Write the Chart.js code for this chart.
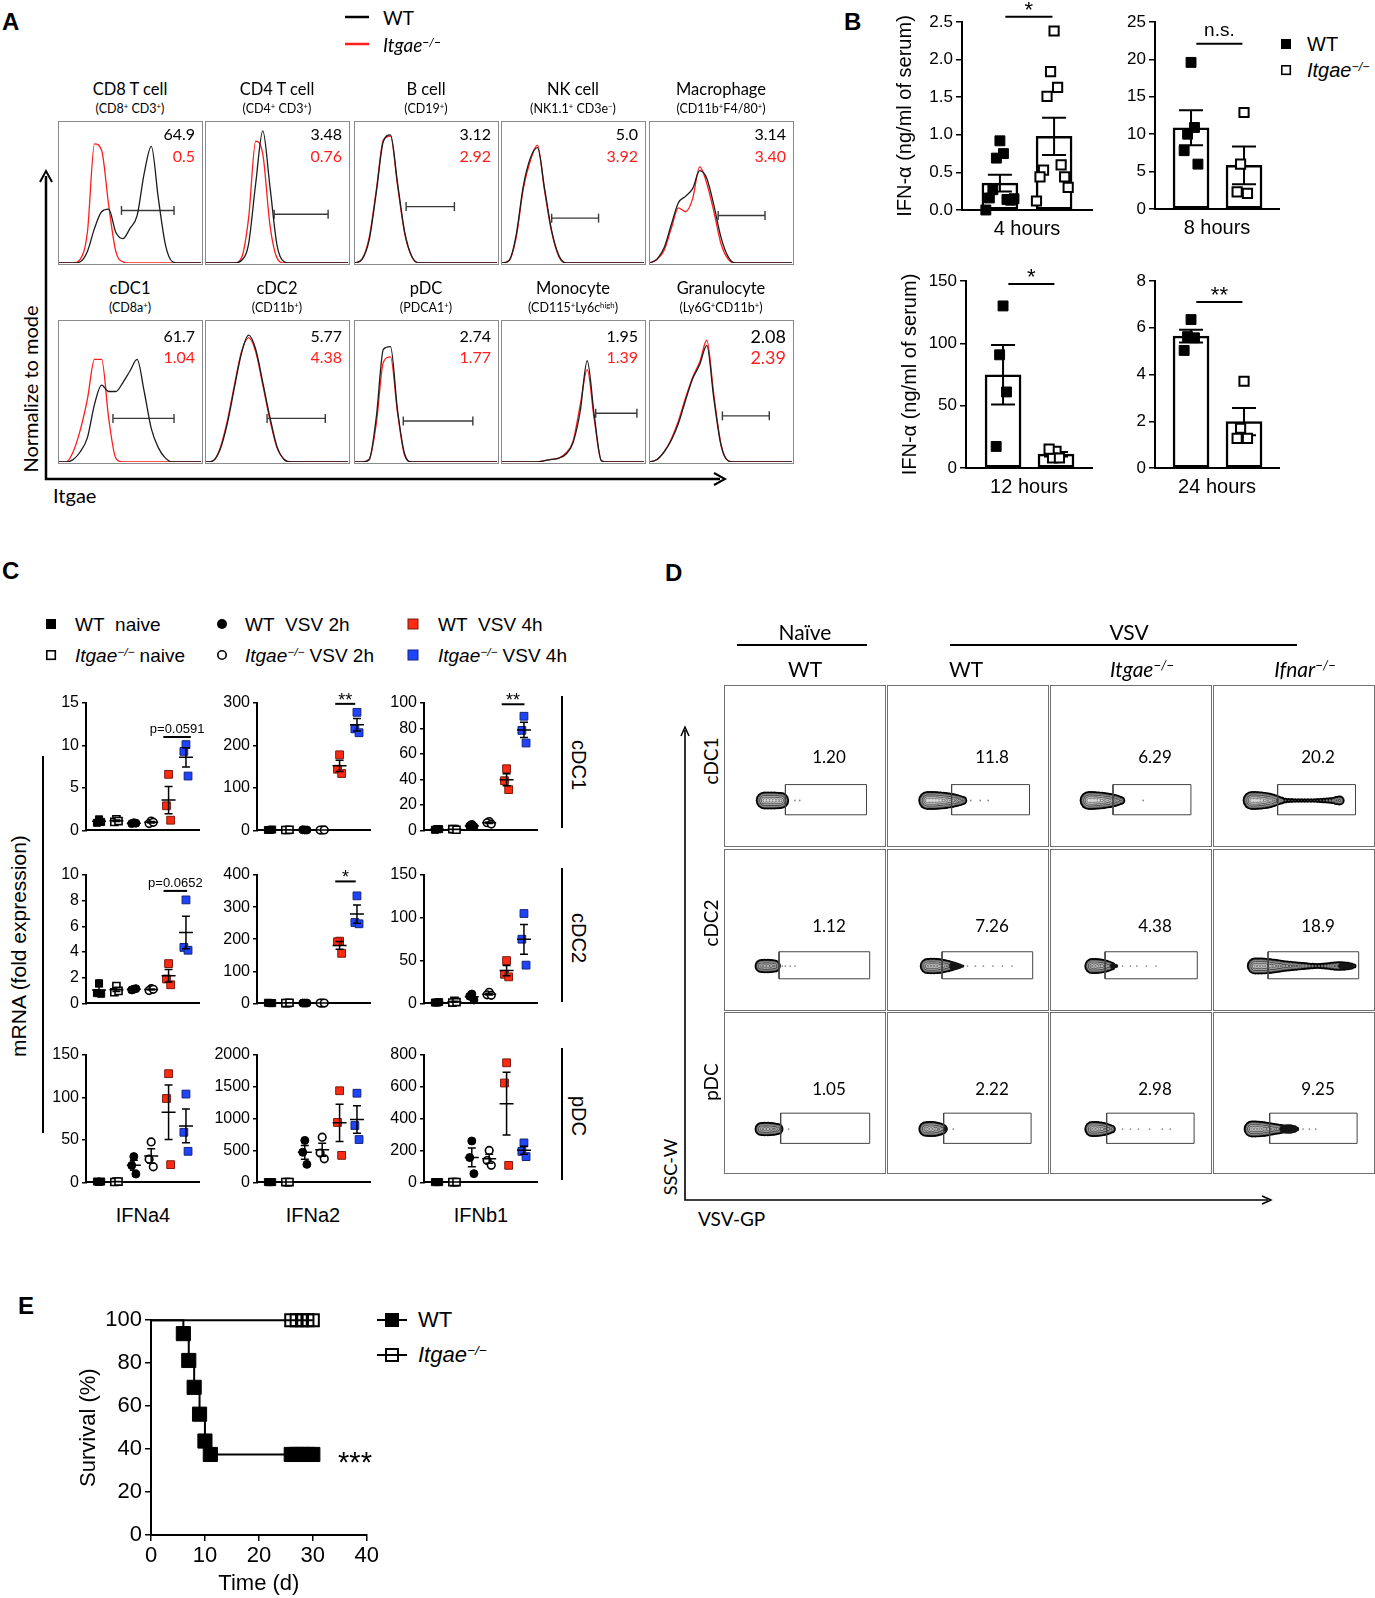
<!DOCTYPE html>
<html>
<head>
<meta charset="utf-8">
<title>Itgae / VSV figure</title>
<script src="https://cdn.jsdelivr.net/npm/chart.js@4.4.1/dist/chart.umd.min.js"></script>
<style>
  html, body { margin: 0; padding: 0; background: #fff; }
  #page { position: relative; width: 1375px; height: 1598px; overflow: hidden; background: #fff; }
  #page canvas { position: absolute; }
  .box { position: absolute; box-sizing: border-box; border: 1.5px solid #8a8a8a; }
  .dbox { border: 1.3px solid #707070; }
  sup { font-size: 0.62em; vertical-align: 0.5em; line-height: 0; }
</style>
</head>
<body>
<div id="page"></div>
<script>
// ---------- panel A: Itgae histograms (normalised to mode, 0-110 scale) ----------
const histX = [0,5,10,15,20,25,30,35,40,45,50,55,60,65,70,75,80,85,90,95,100];
const cellTypes = ['CD8 T cell','CD4 T cell','B cell','NK cell','Macrophage','cDC1','cDC2','pDC','Monocyte','Granulocyte'];
const cellMarkers = ['(CD8<sup>+</sup> CD3<sup>+</sup>)','(CD4<sup>+</sup> CD3<sup>+</sup>)','(CD19<sup>+</sup>)',
  '(NK1.1<sup>+</sup> CD3e<sup>−</sup>)','(CD11b<sup>+</sup>F4/80<sup>+</sup>)','(CD8a<sup>+</sup>)','(CD11b<sup>+</sup>)',
  '(PDCA1<sup>+</sup>)','(CD115<sup>+</sup>Ly6c<sup>high</sup>)','(Ly6G<sup>+</sup>CD11b<sup>+</sup>)'];
const histWT = [
  [0,0,0,1,9,27,40,42,24,19,27,37,70,91,50,14,1,0,0,0,0],
  [0,0,0,0,0,2,15,62,103,60,14,1,0,0,0,0,0,0,0,0,0],
  [0,3,18,55,95,100,62,24,5,0,0,0,0,0,0,0,0,0,0,0,0],
  [0,2,22,60,82,90,58,25,6,0,0,0,0,0,0,0,0,0,0,0,0],
  [0,3,12,30,47,52,58,72,66,45,20,5,0,0,0,0,0,0,0,0,0],
  [0,0,2,8,19,45,60,55,55,62,71,80,55,26,11,3,0,0,0,0,0],
  [0,1,10,30,58,85,99,88,62,35,12,2,0,0,0,0,0,0,0,0,0],
  [0,0,2,35,88,90,40,6,0,0,0,0,0,0,0,0,0,0,0,0,0],
  [0,0,0,0,0,0,1,2,3,6,15,39,79,36,1,0,0,0,0,0,0],
  [0,2,8,17,30,48,65,76,91,49,13,1,0,0,0,0,0,0,0,0,0]
];
const histKO = [
  [0,0,0,3,24,93,88,45,9,1,0,0,0,0,0,0,0,0,0,0,0],
  [0,0,0,0,0,4,35,95,85,30,4,0,0,0,0,0,0,0,0,0,0],
  [0,3,20,57,96,99,60,23,5,0,0,0,0,0,0,0,0,0,0,0,0],
  [0,2,20,58,80,92,56,24,5,0,0,0,0,0,0,0,0,0,0,0,0],
  [0,3,10,27,43,40,50,75,62,40,15,3,0,0,0,0,0,0,0,0,0],
  [0,0,8,25,49,80,80,34,3,0,0,0,0,0,0,0,0,0,0,0,0],
  [0,1,11,32,60,86,97,86,60,33,11,2,0,0,0,0,0,0,0,0,0],
  [0,0,2,30,78,82,38,5,0,0,0,0,0,0,0,0,0,0,0,0,0],
  [0,0,0,0,0,0,1,2,3,7,16,44,72,33,1,0,0,0,0,0,0],
  [0,2,8,18,32,50,66,78,95,52,14,1,0,0,0,0,0,0,0,0,0]
];
const gateLo = [44,48,36,35,48,38,43,34,66,51];
const gateHi = [81,86,70,68,81,81,84,83,95,84];
const gateLevel = [41,38,44,35,37,34,34,32,38,36];
const pctWT = ['64.9','3.48','3.12','5.0','3.14','61.7','5.77','2.74','1.95','2.08'];
const pctKO = ['0.5','0.76','2.92','3.92','3.40','1.04','4.38','1.77','1.39','2.39'];

// ---------- panel B: serum IFN-alpha (ng/ml) ----------
const ifn4hWT = [0.92,0.69,0.75,0.27,0.14,0.16,0.13,0.0,0.15];
const ifn4hKO = [2.38,1.84,1.63,1.51,0.60,0.53,0.44,0.44,0.30,0.12];
const ifn8hWT = [19.6,10.0,10.9,7.8,6.0];
const ifn8hKO = [12.9,6.0,2.1,2.3];
const ifn12hWT = [130,90.8,61,17.3];
const ifn12hKO = [13.3,8.0,8.0,15.1];
const ifn24hWT = [6.35,5.62,5.57,5.03];
const ifn24hKO = [3.71,1.70,1.27,1.27];

// ---------- panel C: mRNA fold expression, 6 groups x 3 mice ----------
const cGroups = ['WT naive','Itgae−/− naive','WT VSV 2h','Itgae−/− VSV 2h','WT VSV 4h','Itgae−/− VSV 4h'];
const cGenes = ['IFNa4','IFNa2','IFNb1'];
const cCells = ['cDC1','cDC2','pDC'];
const cdc1Ifna4 = [[1.3,0.9,1.0],[1.3,1.0,1.1],[0.9,0.8,0.85],[1.1,0.8,0.95],[6.6,2.9,1.2],[10.1,9.3,6.4]];
const cdc1Ifna2 = [[1,1,2],[1,1,1.5],[1,1.5,1],[1,0.8,1.2],[178,144,134],[278,239,230]];
const cdc1Ifnb1 = [[1,0.5,1],[1,1,0.5],[4.7,3.5,3],[7,6,5],[48.4,39,32],[89.6,78.5,68.6]];
const cdc2Ifna4 = [[1.57,0.8,0.75],[1.35,0.87,0.97],[1.1,1.05,1.15],[1.15,1.0,1.1],[3.1,1.9,1.45],[8.06,4.36,4.14]];
const cdc2Ifna2 = [[1,2,1],[1,1,2],[1,1,1],[1,1,1],[194,192,156],[335,252,248]];
const cdc2Ifnb1 = [[1,1,1.5],[3,1,1.5],[10.9,8.4,4],[13,10,9.4],[50,34,31],[105,75,44.7]];
const pdcIfna4 = [[0.5,1,1],[1,0.5,1],[30.4,20,9.9],[47.6,27.4,18.3],[128,98.8,20.9],[104,59,36.6]];
const pdcIfna2 = [[5,5,5],[5,5,5],[659,473,283],[710,460,370],[1439,941,424],[1400,893,673]];
const pdcIfnb1 = [[2,2,2],[2,2,2],[260,156,55],[201,137,107],[751,624,107],[248,195,162]];
const cMax = [[15,300,100],[10,400,150],[150,2000,800]];
const cStep = [[5,100,20],[2,100,50],[50,500,200]];

// ---------- panel D: VSV-GP contour plots (gate %, population outline on 0-100 grid) ----------
const dCols = ['WT','WT','Itgae','Ifnar'];
const dRows = ['cDC1','cDC2','pDC'];
const dPct = [['1.20','11.8','6.29','20.2'],['1.12','7.26','4.38','18.9'],['1.05','2.22','2.98','9.25']];
const dGateX = [[[38,89],[40,89],[39,88],[40,89]],[[34,91],[34,91],[34,92],[34,91]],[[35,91],[35,90],[35,90],[35,90]]];
const dGateY = [[19,38],[19,36],[18,37]];
const dBlobY = [28,27,27];
// population half-height (px) along the VSV-GP axis
const dBlobX = [
  [[25,27,29,31,33,35],
   [25,27,29,31,33,35,37,39,41,43,45,47],
   [24,26,28,30,32,34,36,38,40,42,44],
   [24,26,28,30,32,34,36,38,40,42,43,45,47,49,51,53,55,57,59,61,63,65,67,69,71,73,75,77,79]],
  [[23,25,27,29,31],
   [25,27,29,31,33,35,37,39,41,43,45],
   [26,28,30,32,34,36,38],
   [26,28,30,32,34,36,38,40,42,44,46,48,50,52,54,56,58,60,62,64,66,68,70,72,74,76,78,80,82,84,86,88]],
  [[23,25,27,29,31,33],
   [24,26,28,30,32,34],
   [26,28,30,32,34,36,38],
   [24,26,28,30,32,34,36,38,40,42]]
];
const dBlobR = [
  [[9,9,9,9,8.8,8.5],
   [9.5,9.5,9.5,9.3,9,8.7,8.3,7.8,7.2,6.5,5.6,4.5],
   [9.5,9.5,9.3,9,8.7,8.3,7.8,7.2,6.5,5.5,4.3],
   [9.5,9.5,9.3,9,8.6,8,7.2,6.2,5,4,3.2,2.8,2.5,2.4,2.3,2.3,2.2,2.2,2.2,2.2,2.3,2.4,2.6,2.8,3,3.2,3.6,4.5,5]],
  [[7,7.2,7.2,7,6.5],
   [8,8.2,8.2,8,7.6,7,6.3,5.5,4.6,3.6,2.6],
   [8,8,7.8,7.3,6.6,5.6,4.4],
   [8.5,8.5,8.5,8.3,8,7.6,7.2,6.8,6.3,5.8,5.5,5.2,4.9,4.6,4.3,4,3.7,3.4,3.2,3,3,3.2,3.5,3.8,4.2,4.6,4.8,4.8,4.6,4.2,3.6,2.5]],
  [[7,7.2,7.2,7,6.6,6],
   [7.8,8,8,7.6,6.8,5.6],
   [8,8,7.8,7.3,6.6,5.6,4.4],
   [8.5,8.5,8.3,8,7.6,7.1,6.5,6,5.5,5]]
];
// solid dark streaks and isolated events
const dTailX = [[[],[],[],[]],
                [[],[41,43,45,47],[39,41],[80,82,84,86]],
                [[],[36],[],[44,46,48,50,52]]];
const dTailR = [[[],[],[],[]],
                [[],[4,3.2,2.4,1.6],[3,2],[3,3.4,3.4,2.8]],
                [[],[2.5],[],[4.5,4.8,4.8,4,2.5]]];
const dDotX = [[[44,47],[52,58,63],[58],[]],
               [[36,38,41,44],[50,55,60,66,72,78],[45,50,54,60,66],[]],
               [[40],[41],[45,50,55,62,70,75],[56,60,64]]];

// ---------- panel E: survival ----------
const survDaysWT = [0,6,7,8,9,10,11,26,27,28,29,30];
const survWT = [100,93.75,81.25,68.75,56.25,43.75,37.5,37.5,37.5,37.5,37.5,37.5];
const survDaysKO = [0,26,27,28,29,30];
const survKO = [100,100,100,100,100,100];

// ================= helpers =================
const page = document.getElementById('page');
const ARIAL = '"Liberation Sans", Arial, sans-serif';
const CAL = 'Lato, "Open Sans", sans-serif';
const KO = '<i>Itgae<sup>−/−</sup></i>';

Chart.defaults.font.family = ARIAL;
Chart.defaults.color = '#000';
Chart.defaults.animation = false;
Chart.defaults.events = [];
Chart.defaults.plugins.legend.display = false;
Chart.defaults.plugins.tooltip.enabled = false;

const mean = a => a.reduce((s, v) => s + v, 0) / a.length;
const sem = a => { const m = mean(a); return Math.sqrt(a.reduce((s, v) => s + (v - m) ** 2, 0) / (a.length - 1) / a.length); };
const spread = (i, step) => [0, -1, 1, -2, 2, -3, 3, -4, 4, -5, 5][i] * step;

function label(html, x, y, o = {}) {
  const d = document.createElement('div');
  d.innerHTML = html;
  const ax = o.align === 'left' ? '0' : o.align === 'right' ? '-100%' : '-50%';
  d.style.cssText = `position:absolute;left:${x}px;top:${y}px;white-space:nowrap;line-height:1;` +
    `font-family:${o.font || ARIAL};font-size:${o.size || 16}px;color:${o.color || '#000'};` +
    `font-weight:${o.bold ? 'bold' : 'normal'};transform:translate(${ax},-50%)` + (o.rot ? ` rotate(${o.rot}deg)` : '');
  page.appendChild(d);
}

function mount(x, y, w, h, p) {
  const c = document.createElement('canvas');
  const W = Math.round(w + p.l + p.r), H = Math.round(h + p.t + p.b);
  c.width = W; c.height = H;
  c.style.cssText = `left:${x - p.l}px;top:${y - p.t}px;width:${W}px;height:${H}px`;
  page.appendChild(c);
  return c;
}

function inBox(left, top, w, h, cls) {
  const b = document.createElement('div');
  b.className = cls;
  b.style.left = left + 'px'; b.style.top = top + 'px';
  b.style.width = w + 'px'; b.style.height = h + 'px';
  page.appendChild(b);
  const c = document.createElement('canvas');
  c.width = w - 3; c.height = h - 3;
  c.style.cssText = `left:0;top:0;width:${w - 3}px;height:${h - 3}px`;
  b.appendChild(c);
  return c;
}

const bare = (xmax, ymax) => ({
  responsive: false, devicePixelRatio: 1,
  layout: { padding: 0, autoPadding: false },
  scales: { x: { type: 'linear', min: 0, max: xmax, display: false },
            y: { type: 'linear', min: 0, max: ymax, display: false } }
});

function yAxis(max, step, dec, size, w, tick, title, tsize) {
  return {
    type: 'linear', min: 0, max,
    afterFit: s => { s.width = w; },
    border: { display: true, color: '#000', width: 2 },
    grid: { display: true, drawOnChartArea: false, drawTicks: true, tickLength: tick, color: '#000', lineWidth: 1.5 },
    ticks: { stepSize: step, font: { size }, padding: 3, color: '#000', callback: v => v.toFixed(dec) },
    title: title ? { display: true, text: title, font: { size: tsize }, padding: 0, color: '#000' } : { display: false }
  };
}

function xAxis(min, max, h, title, tsize) {
  return {
    type: 'linear', min, max, offset: false,
    afterFit: s => { s.height = h; },
    border: { display: true, color: '#000', width: 2 },
    grid: { display: false },
    ticks: { display: false },
    title: title ? { display: true, text: title, font: { size: tsize }, padding: 0, color: '#000' } : { display: false }
  };
}

function drawErr(chart, items, o) {
  const { ctx, scales: { x, y } } = chart;
  ctx.save();
  ctx.strokeStyle = '#000'; ctx.lineWidth = o.lw;
  ctx.beginPath();
  items.forEach(it => {
    const m = mean(it.vals), s = sem(it.vals);
    const px = x.getPixelForValue(it.x);
    const hi = y.getPixelForValue(m + s), lo = y.getPixelForValue(m - s), pm = y.getPixelForValue(m);
    ctx.moveTo(px, hi); ctx.lineTo(px, lo);
    ctx.moveTo(px - o.cap, hi); ctx.lineTo(px + o.cap, hi);
    ctx.moveTo(px - o.cap, lo); ctx.lineTo(px + o.cap, lo);
    if (o.meanW) { ctx.moveTo(px - o.meanW, pm); ctx.lineTo(px + o.meanW, pm); }
  });
  ctx.stroke();
  ctx.restore();
}

function errBars(items, o) {
  return {
    id: 'err',
    afterDatasetDraw(chart, args) { if (o.stage === 'bar' && args.meta.type === 'bar') drawErr(chart, items, o); },
    afterDatasetsDraw(chart) { if (o.stage === 'top') drawErr(chart, items, o); }
  };
}

function sigMarks(items) {
  return {
    id: 'sig',
    afterDraw(chart) {
      const { ctx, scales: { x, y } } = chart;
      ctx.save();
      items.forEach(s => {
        const x1 = x.getPixelForValue(s.x1), x2 = x.getPixelForValue(s.x2), py = y.getPixelForValue(s.y);
        ctx.strokeStyle = '#000'; ctx.lineWidth = 2;
        ctx.beginPath(); ctx.moveTo(x1, py); ctx.lineTo(x2, py); ctx.stroke();
        ctx.fillStyle = '#000'; ctx.font = `${s.size}px ${ARIAL}`;
        ctx.textAlign = 'center'; ctx.textBaseline = 'alphabetic';
        ctx.fillText(s.text, (x1 + x2) / 2, py - s.dy);
      });
      ctx.restore();
    }
  };
}

// ================= panel A =================
const aCols = [58, 205, 354, 501, 649];
const aRows = [121, 320];
const aNumY = [[13, 35], [16, 37]];
cellTypes.forEach((name, i) => {
  const r = Math.floor(i / 5), c = i % 5, L = aCols[c], T = aRows[r];
  const cv = inBox(L, T, 145, 144, 'box');
  const pts = arr => histX.map((x, k) => ({ x, y: arr[k] || 0 }));
  new Chart(cv, {
    type: 'line',
    data: { datasets: [
      { data: pts(histWT[i]), borderColor: '#1c1c1c', borderWidth: 1.3, pointRadius: 0, cubicInterpolationMode: 'monotone' },
      { data: pts(histKO[i]), borderColor: '#ff1d1d', borderWidth: 1.3, pointRadius: 0, cubicInterpolationMode: 'monotone' },
      { data: [{ x: gateLo[i], y: gateLevel[i] }, { x: gateHi[i], y: gateLevel[i] }],
        borderColor: '#3a3a3a', borderWidth: 1.4, pointStyle: 'line', pointRotation: 90,
        pointRadius: 4.5, pointBorderWidth: 1.4, pointBorderColor: '#3a3a3a' }
    ] },
    options: bare(100, 110)
  });
  label(name, L + 72, T - 32, { font: CAL, size: 16.5 });
  label(cellMarkers[i], L + 72, T - 12, { font: CAL, size: 12.5 });
  const big = i === 9 ? 18 : 16;
  label(pctWT[i], L + 137, T + aNumY[r][0], { font: CAL, size: big, align: 'right' });
  label(pctKO[i], L + 137, T + aNumY[r][1], { font: CAL, size: big, align: 'right', color: '#ff1d1d' });
});
label('WT', 383, 17, { font: CAL, size: 19, align: 'left' });
label(KO, 383, 44, { font: CAL, size: 19, align: 'left' });
label('Normalize to mode', 30, 389, { font: CAL, size: 20, rot: -90 });
label('Itgae', 53, 495, { font: CAL, size: 20, align: 'left' });

// ================= panel B =================
const bPanels = [
  { wt: ifn4hWT, ko: ifn4hKO, max: 2.5, step: 0.5, dec: 1, rect: [962, 22, 130, 188], padL: 69, xr: [0.3, 2.7],
    yt: 'IFN-α (ng/ml of serum)', xt: '4 hours', sig: { y: 2.57, text: '*', size: 22, dy: 0 } },
  { wt: ifn8hWT, ko: ifn8hKO, max: 25, step: 5, dec: 0, rect: [1155, 22, 124, 187], padL: 40, xr: [0.32, 2.66],
    yt: null, xt: '8 hours', sig: { y: 22.1, text: 'n.s.', size: 19, dy: 8 } },
  { wt: ifn12hWT, ko: ifn12hKO, max: 150, step: 50, dec: 0, rect: [966, 281, 126, 187], padL: 68, xr: [0.3, 2.68],
    yt: 'IFN-α (ng/ml of serum)', xt: '12 hours', sig: { y: 147.6, text: '*', size: 22, dy: 0 } },
  { wt: ifn24hWT, ko: ifn24hKO, max: 8, step: 2, dec: 0, rect: [1155, 281, 124, 187], padL: 40, xr: [0.32, 2.66],
    yt: null, xt: '24 hours', sig: { y: 7.1, text: '**', size: 22, dy: 0 } }
];
bPanels.forEach(p => {
  const pad = { l: p.padL, r: 6, t: 22, b: 31 };
  const cv = mount(p.rect[0], p.rect[1], p.rect[2], p.rect[3], pad);
  new Chart(cv, {
    type: 'bar',
    data: { datasets: [
      { type: 'scatter', data: p.wt.map((v, i) => ({ x: 1 + spread(i, 0.065), y: v })),
        pointStyle: 'rect', pointRadius: 7, backgroundColor: '#000', borderColor: '#000', borderWidth: 1, clip: false },
      { type: 'scatter', data: p.ko.map((v, i) => ({ x: 2 + spread(i, 0.065), y: v })),
        pointStyle: 'rect', pointRadius: 6.5, backgroundColor: '#fff', borderColor: '#000', borderWidth: 2, clip: false },
      { type: 'bar', data: [{ x: 1, y: mean(p.wt) }, { x: 2, y: mean(p.ko) }],
        backgroundColor: '#fff', borderColor: '#000', borderWidth: 2.5, borderSkipped: false, barThickness: 36, clip: false }
    ] },
    options: {
      responsive: false, devicePixelRatio: 1,
      layout: { padding: { top: pad.t, right: pad.r, left: 0, bottom: 0 }, autoPadding: false },
      scales: { x: xAxis(p.xr[0], p.xr[1], pad.b, p.xt, 20), y: yAxis(p.max, p.step, p.dec, 17, pad.l, 6, p.yt, 20) }
    },
    plugins: [errBars([{ x: 1, vals: p.wt }, { x: 2, vals: p.ko }], { stage: 'bar', cap: 12, lw: 2 }),
              sigMarks([Object.assign({ x1: 1.1, x2: 1.97 }, p.sig)])]
  });
});
label('WT', 1307, 44, { size: 20, align: 'left' });
label(KO, 1307, 70, { size: 20, align: 'left' });

// ================= panel C =================
const cData = [[cdc1Ifna4, cdc1Ifna2, cdc1Ifnb1], [cdc2Ifna4, cdc2Ifna2, cdc2Ifnb1], [pdcIfna4, pdcIfna2, pdcIfnb1]];
const cLeft = [86, 257, 424];
const cTop = [703, 875, 1055];
const cH = [136, 137, 136];
const cStyle = [
  { pointStyle: 'rect', pointRadius: 5, backgroundColor: '#000', borderColor: '#000', borderWidth: 1 },
  { pointStyle: 'rect', pointRadius: 5, backgroundColor: '#fff', borderColor: '#000', borderWidth: 1.6 },
  { pointStyle: 'circle', pointRadius: 4, backgroundColor: '#000', borderColor: '#000', borderWidth: 1 },
  { pointStyle: 'circle', pointRadius: 3.8, backgroundColor: '#fff', borderColor: '#000', borderWidth: 1.6 },
  { pointStyle: 'rect', pointRadius: 5.5, backgroundColor: '#ff2a12', borderColor: '#7a1a10', borderWidth: 1 },
  { pointStyle: 'rect', pointRadius: 5.5, backgroundColor: '#1f44ff', borderColor: '#14237a', borderWidth: 1 }
];
const cSig = [
  [[{ x1: 4.7, x2: 6.28, y: 11.0, text: 'p=0.0591', size: 13, dy: 4 }],
   [{ x1: 4.75, x2: 5.9, y: 298, text: '**', size: 18, dy: -2 }],
   [{ x1: 4.72, x2: 6.03, y: 99, text: '**', size: 18, dy: -2 }]],
  [[{ x1: 4.71, x2: 6.07, y: 8.76, text: 'p=0.0652', size: 13, dy: 4 }],
   [{ x1: 4.75, x2: 5.93, y: 380, text: '*', size: 18, dy: -2 }],
   []],
  [[], [], []]
];
cCells.forEach((cell, r) => cGenes.forEach((gene, c) => {
  const vals = cData[r][c];
  const pad = { l: 46, r: 6, t: 26, b: 4 };
  const cv = mount(cLeft[c], cTop[r], 113, cH[r], pad);
  const sets = vals.map((g, gi) => Object.assign({
    type: 'scatter', label: cGroups[gi], clip: false,
    data: g.map((v, k) => ({ x: gi + 1 + spread(k, 0.12), y: v }))
  }, cStyle[gi]));
  new Chart(cv, {
    type: 'scatter',
    data: { datasets: sets },
    options: {
      responsive: false, devicePixelRatio: 1,
      layout: { padding: { top: pad.t, right: pad.r, left: 0, bottom: 0 }, autoPadding: false },
      scales: { x: xAxis(0.25, 6.75, pad.b, null), y: yAxis(cMax[r][c], cStep[r][c], 0, 16, pad.l, 4, null) }
    },
    plugins: [errBars(vals.map((g, gi) => ({ x: gi + 1, vals: g })), { stage: 'top', cap: 4, meanW: 7, lw: 1.5 }),
              sigMarks(cSig[r][c])]
  });
}));
label('WT&nbsp; naive', 75, 624, { size: 19, align: 'left' });
label('WT&nbsp; VSV 2h', 245, 624, { size: 19, align: 'left' });
label('WT&nbsp; VSV 4h', 438, 624, { size: 19, align: 'left' });
label(KO + ' naive', 75, 655, { size: 19, align: 'left' });
label(KO + ' VSV 2h', 245, 655, { size: 19, align: 'left' });
label(KO + ' VSV 4h', 438, 655, { size: 19, align: 'left' });
label('IFNa4', 143, 1215, { size: 20 });
label('IFNa2', 313, 1215, { size: 20 });
label('IFNb1', 481, 1215, { size: 20 });
[765, 938, 1116].forEach((y, r) => label(cCells[r], 579, y, { size: 20, rot: 90 }));
label('mRNA (fold expression)', 18, 946, { size: 21, rot: -90 });

// ================= panel D =================
const dLeft = [724, 887, 1050, 1213];
const dTop = [685, 849, 1012];
// contour shading, outermost first: [inset px, fill]; thin dark shells read as contour lines
const shells = [[0, '#000'], [1.7, '#5a5a5a'], [2.5, '#8e8e8e'], [3.6, '#3c3c3c'], [4.3, '#a4a4a4'],
                [5.4, '#4a4a4a'], [6.0, '#bdbdbd'], [7.0, '#6a6a6a'], [7.6, '#d4d4d4']];
dRows.forEach((row, r) => dCols.forEach((col, c) => {
  const cv = inBox(dLeft[c], dTop[r], 162, 162, 'box dbox');
  const y0 = dBlobY[r], gx = dGateX[r][c], gy = dGateY[r];
  const xs = dBlobX[r][c], rs = dBlobR[r][c];
  const layers = shells.map(([d, bg]) => ({
    type: 'bubble', data: xs.map((x, k) => ({ x, y: y0, r: Math.max(rs[k] - d, 0) })),
    backgroundColor: bg, borderWidth: 0, clip: false
  })).reverse();
  new Chart(cv, {
    type: 'bubble',
    data: { datasets: [
      { type: 'scatter', showLine: true, borderColor: '#444', borderWidth: 1, pointRadius: 0, clip: false,
        data: [{ x: gx[0], y: gy[0] }, { x: gx[1], y: gy[0] }, { x: gx[1], y: gy[1] }, { x: gx[0], y: gy[1] }, { x: gx[0], y: gy[0] }] },
      { type: 'bubble', data: dTailX[r][c].map((x, k) => ({ x, y: y0, r: dTailR[r][c][k] })),
        backgroundColor: '#151515', borderWidth: 0, clip: false },
      ...layers,
      { type: 'bubble', data: dDotX[r][c].map(x => ({ x, y: y0, r: 0.9 })),
        backgroundColor: '#8a8a8a', borderWidth: 0, clip: false }
    ] },
    options: bare(100, 100)
  });
  label(dPct[r][c], dLeft[c] + 105, [756, 925, 1088][r], { font: CAL, size: 17 });
}));
label('Naïve', 805, 631, { font: CAL, size: 21 });
label('VSV', 1129, 631, { font: CAL, size: 21 });
label('WT', 805, 668, { font: CAL, size: 21 });
label('WT', 966, 668, { font: CAL, size: 21 });
label(KO, 1142, 668, { font: CAL, size: 21 });
label('<i>Ifnar<sup>−/−</sup></i>', 1305, 668, { font: CAL, size: 21 });
[761, 923, 1082].forEach((y, r) => label(dRows[r], 710, y, { font: CAL, size: 19, rot: -90 }));
label('SSC-W', 670, 1167, { font: CAL, size: 18, rot: -90 });
label('VSV-GP', 698, 1218, { font: CAL, size: 19, align: 'left' });

// ================= panel E =================
{
  const pad = { l: 75, r: 12, t: 12, b: 62 };
  const cv = mount(151, 1316, 218, 219, pad);
  new Chart(cv, {
    type: 'line',
    data: { datasets: [
      { label: 'WT', data: survDaysWT.map((d, i) => ({ x: d, y: survWT[i] })), stepped: 'before',
        borderColor: '#000', borderWidth: 2, pointStyle: 'rect',
        pointRadius: survDaysWT.map((d, i) => (i === 0 ? 0 : 10)),
        pointBackgroundColor: '#000', pointBorderColor: '#000', pointBorderWidth: 1, clip: false },
      { label: 'Itgae−/−', data: survDaysKO.map((d, i) => ({ x: d, y: survKO[i] })), stepped: 'before',
        borderColor: '#000', borderWidth: 2, pointStyle: 'rect',
        pointRadius: survDaysKO.map((d, i) => (i === 0 ? 0 : 8.5)),
        pointBackgroundColor: 'rgba(255,255,255,0)', pointBorderColor: '#000', pointBorderWidth: 2, clip: false }
    ] },
    options: {
      responsive: false, devicePixelRatio: 1,
      layout: { padding: { top: pad.t, right: pad.r, left: 0, bottom: 0 }, autoPadding: false },
      scales: {
        x: {
          type: 'linear', min: 0, max: 40,
          afterFit: s => { s.height = pad.b; },
          border: { display: true, color: '#000', width: 2 },
          grid: { display: true, drawOnChartArea: false, drawTicks: true, tickLength: 6, color: '#000', lineWidth: 1.5 },
          ticks: { stepSize: 10, font: { size: 22 }, padding: 2, color: '#000' },
          title: { display: true, text: 'Time (d)', font: { size: 22 }, padding: 0, color: '#000' }
        },
        y: yAxis(100, 20, 0, 22, pad.l, 6, 'Survival (%)', 22)
      }
    }
  });
  label('WT', 418, 1320, { size: 22, align: 'left' });
  label(KO, 418, 1355, { size: 22, align: 'left' });
  label('***', 355, 1462, { size: 29 });
}

// ================= panel letters =================
label('A', 2, 22, { size: 24, bold: true, align: 'left' });
label('B', 844, 22, { size: 24, bold: true, align: 'left' });
label('C', 2, 571, { size: 24, bold: true, align: 'left' });
label('D', 665, 573, { size: 24, bold: true, align: 'left' });
label('E', 18, 1306, { size: 24, bold: true, align: 'left' });

// ================= axis arrows, legend keys, bracket lines =================
const svg = [
  '<polyline points="46,176 46,479 720,479" fill="none" stroke="#000" stroke-width="2.5"/>',
  '<polyline points="40,182 46,171 52,182" fill="none" stroke="#000" stroke-width="2"/>',
  '<polyline points="714,473 725,479 714,485" fill="none" stroke="#000" stroke-width="2"/>',
  '<line x1="345" y1="17" x2="369" y2="17" stroke="#000" stroke-width="2.5"/>',
  '<line x1="345" y1="44" x2="369" y2="44" stroke="#ff1d1d" stroke-width="2.5"/>',
  '<rect x="1281" y="39" width="10" height="10" fill="#000"/>',
  '<rect x="1281.8" y="65.8" width="8.5" height="8.5" fill="#fff" stroke="#000" stroke-width="1.6"/>',
  '<rect x="46" y="619" width="10" height="10" fill="#000"/>',
  '<rect x="46.8" y="650.8" width="8.5" height="8.5" fill="#fff" stroke="#000" stroke-width="1.6"/>',
  '<circle cx="222" cy="624" r="5" fill="#000"/>',
  '<circle cx="222" cy="655" r="4.2" fill="#fff" stroke="#000" stroke-width="1.6"/>',
  '<rect x="408" y="619" width="10" height="10" fill="#ff2a12" stroke="#7a1a10" stroke-width="1"/>',
  '<rect x="408" y="650" width="10" height="10" fill="#1f44ff" stroke="#14237a" stroke-width="1"/>',
  '<line x1="43" y1="756" x2="43" y2="1133" stroke="#000" stroke-width="2"/>',
  '<line x1="562" y1="696" x2="562" y2="828" stroke="#000" stroke-width="2"/>',
  '<line x1="562" y1="868" x2="562" y2="1002" stroke="#000" stroke-width="2"/>',
  '<line x1="562" y1="1048" x2="562" y2="1180" stroke="#000" stroke-width="2"/>',
  '<line x1="737" y1="645" x2="867" y2="645" stroke="#000" stroke-width="1.8"/>',
  '<line x1="950" y1="645" x2="1297" y2="645" stroke="#000" stroke-width="1.8"/>',
  '<polyline points="685,730 685,1200 1268,1200" fill="none" stroke="#000" stroke-width="1.6"/>',
  '<polyline points="681,736 685,727 689,736" fill="none" stroke="#000" stroke-width="1.5"/>',
  '<polyline points="1262,1196 1271,1200 1262,1204" fill="none" stroke="#000" stroke-width="1.5"/>',
  '<line x1="377" y1="1320" x2="407" y2="1320" stroke="#000" stroke-width="2"/>',
  '<rect x="385" y="1313" width="14" height="14" fill="#000"/>',
  '<rect x="386" y="1349" width="12" height="12" fill="#fff" stroke="#000" stroke-width="2"/>',
  '<line x1="377" y1="1355" x2="407" y2="1355" stroke="#000" stroke-width="2"/>'
];
const ov = document.createElement('div');
ov.style.cssText = 'position:absolute;left:0;top:0;width:1375px;height:1598px;pointer-events:none';
ov.innerHTML = '<svg width="1375" height="1598" xmlns="http://www.w3.org/2000/svg">' + svg.join('') + '</svg>';
page.appendChild(ov);
</script>
</body>
</html>
